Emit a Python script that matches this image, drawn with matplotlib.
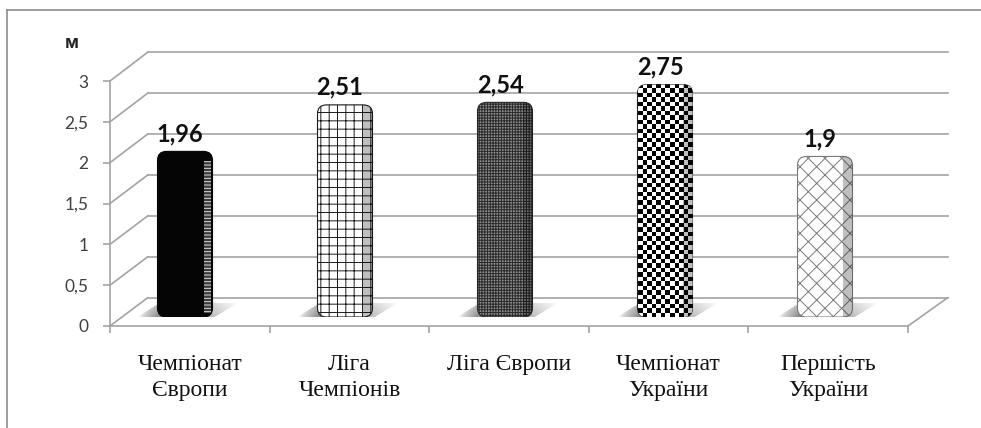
import matplotlib
matplotlib.use("Agg")
import matplotlib.pyplot as plt
import numpy as np
from matplotlib.patches import FancyBboxPatch, Polygon, Rectangle, ConnectionPatch
from matplotlib.lines import Line2D

### data ###
categories = ["Чемпіонат\nЄвропи", "Ліга\nЧемпіонів", "Ліга Європи", "Чемпіонат\nУкраїни", "Першість\nУкраїни"]
values = [1.96, 2.51, 2.54, 2.75, 1.9]
yticks = [0, 0.5, 1, 1.5, 2, 2.5, 3]
ytick_labels = ["0", "0,5", "1", "1,5", "2", "2,5", "3"]
unit_label = "м"

# fill style per bar: (face, hatch line colour, hatch)
styles = [("#050505", "#050505", None),
          ("white", "#1a1a1a", "++"),
          ("#8a8a8a", "#2a2a2a", "++++++"),
          ("checker", None, None),
          ("white", "#7a7a7a", "xx")]

plt.rcParams['hatch.linewidth'] = 0.7
W, H = 981, 428
grid_c = "#a3a3a3"

def box(x0, ytop, x1, ybot):
    return [x0 / W, 1 - ybot / H, (x1 - x0) / W, (ybot - ytop) / H]

fig = plt.figure(figsize=(W / 100, H / 100), dpi=100)

# back wall
bax = fig.add_axes(box(148, 52, 948, 297.5))
bax.set_xlim(-0.5, 4.5)
bax.set_ylim(0, 3)
bax.axis('off')
for v in yticks:
    bax.axhline(v, color=grid_c, lw=1.2, clip_on=False)

# front axis
fax = fig.add_axes(box(110, 81, 908, 326))
fax.patch.set_alpha(0)
fax.set_xlim(-0.5, 4.5)
fax.set_ylim(0, 3)
for s in ['top', 'right']:
    fax.spines[s].set_visible(False)
for s in ['left', 'bottom']:
    fax.spines[s].set_color(grid_c)
    fax.spines[s].set_linewidth(1.2)
fax.set_yticks(yticks)
fax.set_yticklabels(ytick_labels)
fax.tick_params(axis='y', length=5, width=1.2, color=grid_c, pad=10.5,
                labelsize=12.5, labelcolor="#404040")
for t in fax.get_yticklabels():
    t.set_family(['Lato', 'DejaVu Sans'])
fax.set_xticks(np.arange(-0.5, 5, 1))
fax.set_xticklabels([])
fax.tick_params(axis='x', which='major', length=5, width=1.2, color=grid_c)
fax.set_xticks(range(len(categories)), minor=True)
fax.set_xticklabels(categories, minor=True)
fax.tick_params(axis='x', which='minor', length=0, pad=20, labelsize=17, labelcolor="#111111")
for t in fax.get_xticklabels(minor=True):
    t.set_family('Liberation Serif')
    t.set_linespacing(1.3)

# side wall / floor edges
for v in yticks:
    fig.add_artist(ConnectionPatch((-0.5, v), (-0.5, v), coordsA=fax.transData,
                                   coordsB=bax.transData, color=grid_c, lw=1.2))
fig.add_artist(ConnectionPatch((4.5, 0), (4.5, 0), coordsA=fax.transData,
                               coordsB=bax.transData, color=grid_c, lw=1.2))

# bars
ax = fig.add_axes(box(105, 63.5, 905, 317))
ax.patch.set_alpha(0)
ax.set_xlim(-0.5, 4.5)
ax.set_ylim(0, 3)
ax.axis('off')
sx = (905 - 105) / 5.0
sy = (317 - 63.5) / 3.0

x = np.arange(len(values))
bars = ax.bar(x, values, width=55 / sx)
for i, b in enumerate(bars):
    b.set_visible(False)
    L, w, h = b.get_x(), b.get_width(), b.get_height()
    R = L + w
    # floor shadow, fading away from the bar base
    x0, x1 = L - 20 / sx, R + 26 / sx
    top = 14 / sy
    shp = Polygon([(x0, 0), (R + 2 / sx, 0), (x1, top), (L + 2 / sx, top)],
                  closed=True, fc='none', ec='none')
    ax.add_patch(shp)
    px = np.linspace(0, 1, 80)
    peak = 28 / (x1 - x0) / sx
    prof = np.where(px < peak, px / peak, (1 - px) / (1 - peak)) ** 0.8
    rows = np.linspace(1.0, 0.55, 20)[:, None]
    rgba = np.zeros((20, 80, 4))
    rgba[..., :3] = 0.3
    rgba[..., 3] = 0.85 * prof[None, :] * rows
    sh = ax.imshow(rgba, extent=(x0, x1, 0, top), origin='lower', aspect='auto',
                   interpolation='bilinear', zorder=1)
    sh.set_clip_path(shp)

    face, hc, hatch = styles[i]
    r = 9 / sx
    fb = FancyBboxPatch((L, 0), w, h, boxstyle="round,pad=0,rounding_size=%f" % r,
                        mutation_aspect=sx / sy, zorder=3, lw=0.8,
                        fc='white' if face == 'checker' else face,
                        ec=hc if hc else '#222222', hatch=hatch)
    ax.add_patch(fb)
    if face == 'checker':
        ny, nx = int(round(h * sy / 4.5)), 12
        chk = (np.indices((ny, nx)).sum(axis=0) % 2).astype(float)
        im = ax.imshow(chk, cmap='gray', extent=(L, R, 0, h), aspect='auto',
                       interpolation='nearest', zorder=3.5, vmin=0, vmax=1)
        im.set_clip_path(fb)
    # side face of the bar
    side = Rectangle((R - 10 / sx, 0), 10 / sx, h, zorder=4, lw=0,
                     fc='#000000', alpha=0.25 if i else 0)
    ax.add_patch(side)
    side.set_clip_path(fb)
    if i == 0:
        s2 = Rectangle((R - 9 / sx, 4 / sy), 7 / sx, h - 14 / sy, zorder=4, fc='#3a3a3a',
                       ec='#dddddd', hatch='-----', lw=0)
        ax.add_patch(s2)
        s2.set_clip_path(fb)
    ax.annotate(f"{values[i]}".replace('.', ','), (x[i], values[i]), xytext=(-5, 10),
                textcoords='offset pixels', ha='center', va='baseline',
                fontsize=17, fontweight='bold', family=['Lato', 'DejaVu Sans'], color='#111111')
ax.set_xlim(-0.5, 4.5)
ax.set_ylim(0, 3)

fig.text(72 / W, 1 - 43 / H, unit_label, ha='center', va='center', fontsize=12,
         fontweight='bold', family=['Open Sans', 'DejaVu Sans'], color='#222222')

# chart frame
fig.add_artist(Line2D([7 / W, 7 / W], [0, 1 - 10 / H], transform=fig.transFigure, color='#8c8c8c', lw=1.2))
fig.add_artist(Line2D([7 / W, 1], [1 - 10 / H, 1 - 10 / H], transform=fig.transFigure, color='#8c8c8c', lw=1.2))

fig.savefig("out.png", dpi=100)
